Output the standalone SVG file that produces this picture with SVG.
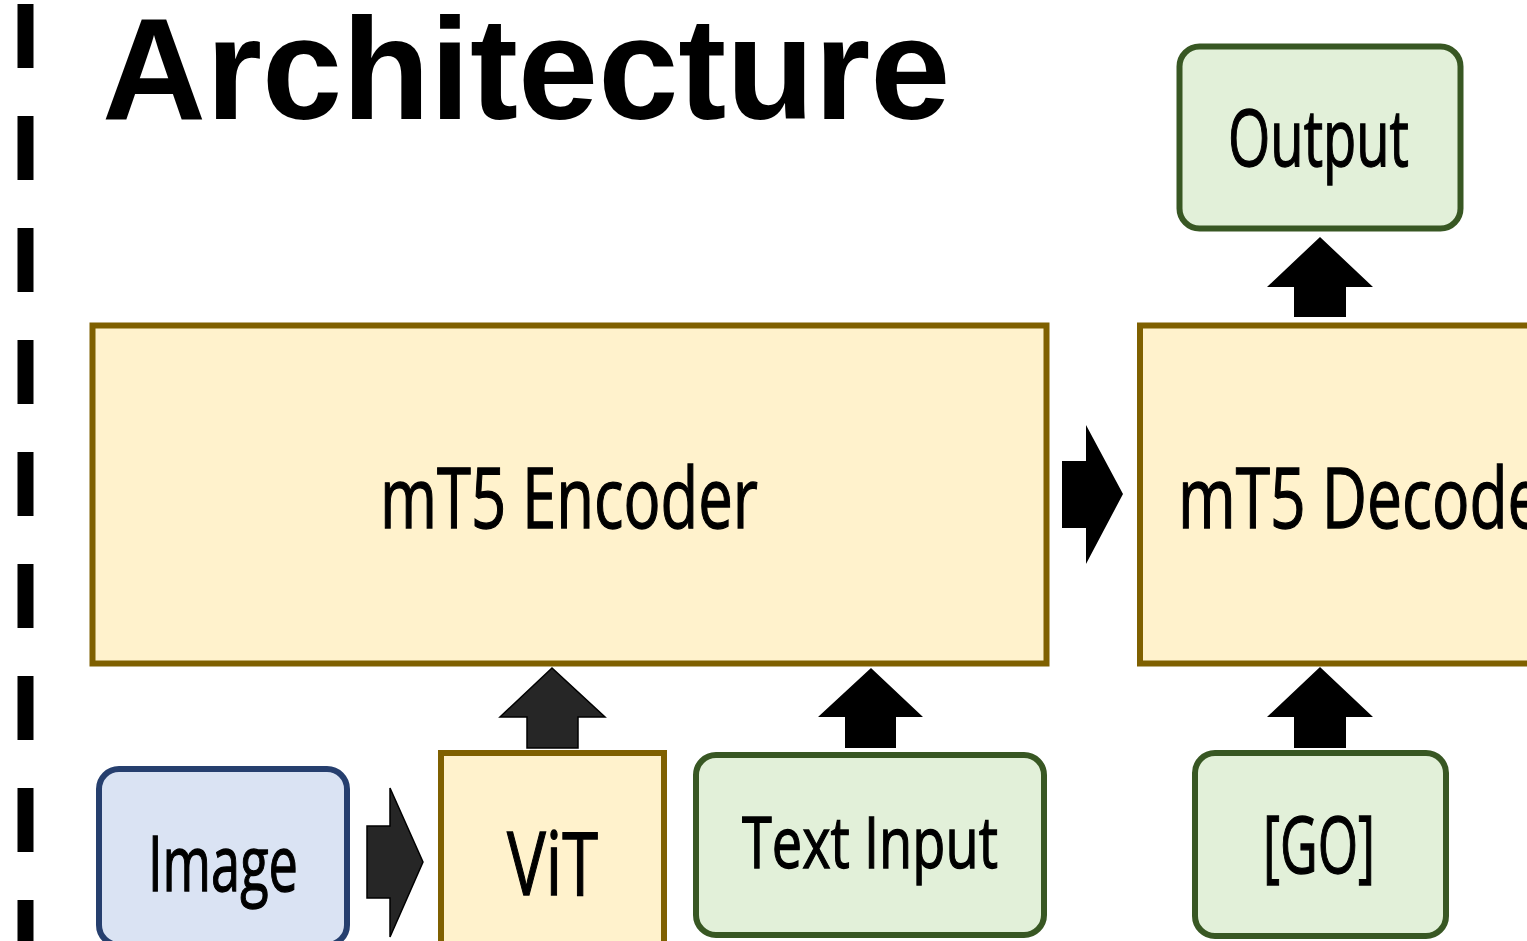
<svg xmlns="http://www.w3.org/2000/svg" width="1527" height="941" viewBox="0 0 1527 941">
  <defs>
    <style>
      .lbl { font-family: "Open Sans", "Noto Sans", "DejaVu Sans", sans-serif; fill: #000; stroke: #000; stroke-width: 1.3; }
      .title { font-family: "Liberation Sans", Arial, sans-serif; font-weight: bold; font-size: 144px; fill: #000; }
      .yellow { fill: #fff2cc; stroke: #7f6000; stroke-width: 6; }
      .green { fill: #e2f0d9; stroke: #385723; stroke-width: 6; }
      .blue { fill: #dae3f3; stroke: #263f6e; stroke-width: 6; }
      .arrow { fill: #000; }
      .arrow-dark { fill: #262626; stroke: #000; stroke-width: 1.5; stroke-linejoin: miter; }
    </style>
  </defs>
  <rect width="1527" height="941" fill="#fff"/>

  <!-- vertical dashed separator -->
  <line x1="25.5" y1="4" x2="25.5" y2="941" stroke="#000" stroke-width="16" stroke-dasharray="64 48"/>

  <text class="title" x="102" y="119">Architecture</text>

  <g id="encoder">
    <rect class="yellow" x="92.5" y="325.5" width="954" height="338"/>
    <text class="lbl" x="380" y="528" font-size="85" textLength="378" lengthAdjust="spacingAndGlyphs">mT5 Encoder</text>
  </g>

  <g id="decoder">
    <rect class="yellow" x="1140" y="325.5" width="420" height="338"/>
    <text class="lbl" x="1178" y="528" font-size="85" textLength="390" lengthAdjust="spacingAndGlyphs">mT5 Decoder</text>
  </g>

  <g id="output">
    <rect class="green" x="1179.5" y="46.5" width="281" height="182" rx="20"/>
    <text class="lbl" x="1228" y="166" font-size="78" textLength="181" lengthAdjust="spacingAndGlyphs">Output</text>
  </g>

  <g id="image">
    <rect class="blue" x="99" y="769" width="248" height="176" rx="20"/>
    <text class="lbl" x="148" y="891" font-size="76" textLength="150" lengthAdjust="spacingAndGlyphs">Image</text>
  </g>

  <g id="vit">
    <rect class="yellow" x="441" y="753" width="223" height="200"/>
    <text class="lbl" x="507" y="895" font-size="87" textLength="91" lengthAdjust="spacingAndGlyphs">ViT</text>
  </g>

  <g id="text-input">
    <rect class="green" x="696" y="755" width="348" height="180" rx="20"/>
    <text class="lbl" x="742" y="868" font-size="72" textLength="256" lengthAdjust="spacingAndGlyphs">Text Input</text>
  </g>

  <g id="go">
    <rect class="green" x="1195" y="753" width="251" height="183" rx="20"/>
    <text class="lbl" x="1263" y="873" font-size="78" textLength="112" lengthAdjust="spacingAndGlyphs">[GO]</text>
  </g>

  <g id="connectors">
    <!-- image to ViT -->
    <polygon class="arrow-dark" points="367,826 390,826 390,788 423,862 390,937 390,898 367,898"/>
    <!-- ViT to encoder -->
    <polygon class="arrow-dark" points="527,748 527,717 500,717 552,668 605,717 578,717 578,748"/>
    <!-- text input to encoder -->
    <polygon class="arrow" points="845,748 845,717 818,717 871,668 923,717 896,717 896,748"/>
    <!-- encoder to decoder -->
    <polygon class="arrow" points="1062,461 1086,461 1086,425 1123,494 1086,564 1086,528 1062,528"/>
    <!-- GO to decoder -->
    <polygon class="arrow" points="1294,748 1294,717 1267,717 1320,667 1373,717 1346,717 1346,748"/>
    <!-- decoder to output -->
    <polygon class="arrow" points="1294,317 1294,287 1267,287 1320,237 1373,287 1346,287 1346,317"/>
  </g>
</svg>
